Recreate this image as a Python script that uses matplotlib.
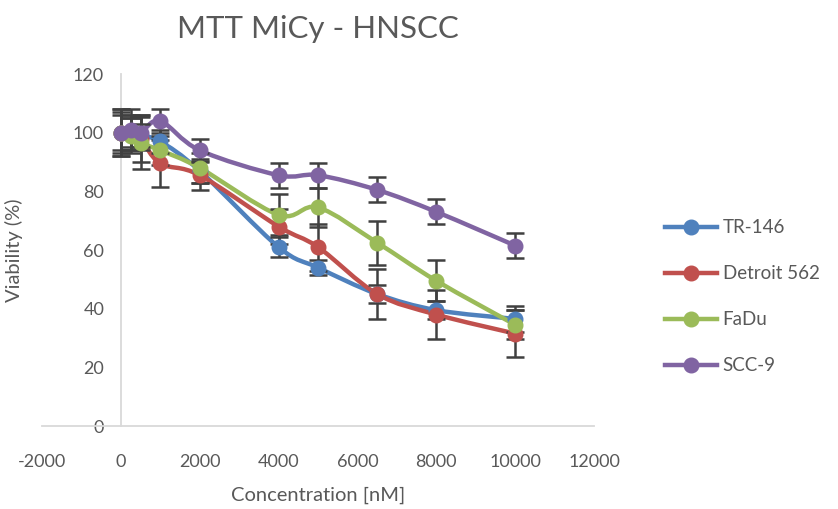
import numpy as np
import matplotlib.pyplot as plt
from matplotlib.path import Path
from matplotlib.patches import PathPatch
from matplotlib.lines import Line2D

plt.rcParams['font.family'] = ['Lato', 'DejaVu Sans']
plt.rcParams['axes.unicode_minus'] = False

# concentrations in nM
conc = [0, 250, 500, 1000, 2000, 4000, 5000, 6500, 8000, 10000]

# viability (%) per cell line
tr146 = [100, 100, 99, 97, 87, 61, 54, 45, 39.5, 36.5]
detroit = [100, 100, 98, 89.5, 85.5, 68, 61, 45, 38, 31.5]
fadu = [100, 99, 96.5, 94, 88, 72, 74.5, 62.5, 49.5, 34.5]
scc9 = [100, 101, 100, 104, 94, 85.5, 85.5, 80.5, 73, 61.5]

# standard deviations
tr146_err = [6, 5, 4, 4, 4, 3.5, 2.5, 3, 3, 4.5]
detroit_err = [7, 6, 8, 8, 5, 6, 8, 8.5, 8.5, 8]
fadu_err = [8, 6, 9, 5, 5, 7, 6.5, 7.5, 7, 5]
scc9_err = [8, 7, 6, 4, 4, 4.3, 4.2, 4.3, 4.3, 4.3]

names = ['TR-146', 'Detroit 562', 'FaDu', 'SCC-9']
colors = ['#4F81BD', '#C0504D', '#9BBB59', '#8064A2']
series = [tr146, detroit, fadu, scc9]
errors = [tr146_err, detroit_err, fadu_err, scc9_err]

txt = '#595959'


def smooth_path(x, y, k=6.0):
    # excel-style smoothed line: cubic bezier through every point
    p = np.column_stack([x, y]).astype(float)
    n = len(p)
    verts = [p[0]]
    codes = [Path.MOVETO]
    for i in range(n - 1):
        p0 = p[i - 1] if i > 0 else p[i]
        p3 = p[i + 2] if i + 2 < n else p[i + 1]
        c1 = p[i] + (p[i + 1] - p0) / k
        c2 = p[i + 1] - (p3 - p[i]) / k
        verts += [c1, c2, p[i + 1]]
        codes += [Path.CURVE4] * 3
    return Path(verts, codes)


fig = plt.figure(figsize=(8.38, 5.09), dpi=100)
ax = fig.add_axes([0.050, 0.163, 0.659, 0.6916])

for vals, err, c in zip(series, errors, colors):
    ax.add_patch(PathPatch(smooth_path(conc, vals), fill=False, edgecolor=c,
                           lw=3.2, capstyle='round', joinstyle='round', zorder=2))
    ax.errorbar(conc, vals, yerr=err, fmt='o', color=c, ms=10.5, mec=c,
                ecolor='#404040', elinewidth=1.8, capsize=6.5, capthick=1.8, zorder=3)

ax.set_xlim(-2000, 12000)
ax.set_ylim(0, 120)
ax.set_xticks(range(-2000, 12001, 2000))
ax.set_yticks(range(0, 121, 20))

for s in ['top', 'right']:
    ax.spines[s].set_visible(False)
ax.spines['left'].set_position(('data', 0))
for s in ['left', 'bottom']:
    ax.spines[s].set_color('#D9D9D9')
    ax.spines[s].set_linewidth(1.3)
ax.spines['left'].set_zorder(0)
ax.tick_params(length=0, labelsize=13, labelcolor=txt)
ax.tick_params(axis='x', pad=20)
ax.tick_params(axis='y', pad=12)

ax.set_xlabel('Concentration [nM]', fontsize=14.5, color=txt, labelpad=12)
ax.set_ylabel('Viability (%)', fontsize=14.5, color=txt)
ax.yaxis.set_label_coords(-0.034, 0.5)
ax.set_title('MTT MiCy - HNSCC', fontsize=22.5, color=txt, pad=26)

handles = [Line2D([], [], color=c, lw=3.2, marker='o', ms=10.5) for c in colors]
leg = fig.legend(handles, names, loc='center left', bbox_to_anchor=(0.774, 0.417),
                 frameon=False, fontsize=13.5, handlelength=2.75, labelspacing=1.55,
                 handletextpad=0.3)
for t in leg.get_texts():
    t.set_color(txt)

fig.savefig('out.png', dpi=100)
